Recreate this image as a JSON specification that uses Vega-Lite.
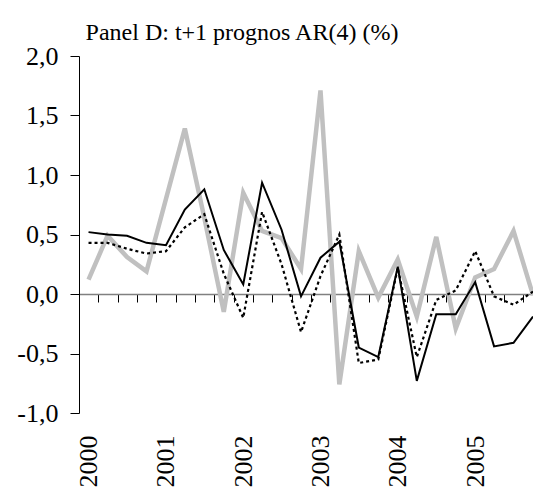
{
  "$schema": "https://vega.github.io/schema/vega-lite/v6.json",
  "width": 454,
  "height": 357,
  "autosize": "none",
  "padding": {"left": 79, "top": 56, "right": 0, "bottom": 80},
  "background": "white",
  "config": {"view": {"stroke": null}, "font": "Liberation Serif, Times New Roman, serif"},
  "title": {
    "text": "Panel D: t+1 prognos AR(4) (%)",
    "font": "Liberation Serif, Times New Roman, serif",
    "fontSize": 24,
    "fontWeight": "normal",
    "color": "black",
    "anchor": "middle",
    "dx": -64,
    "offset": -2
  },
  "data": {
    "values": [
      {"kvartal": "2000-02-15", "utfall": 0.12, "prognos": 0.52, "prognos_alt": 0.43},
      {"kvartal": "2000-05-15", "utfall": 0.49, "prognos": 0.50, "prognos_alt": 0.43},
      {"kvartal": "2000-08-15", "utfall": 0.31, "prognos": 0.49, "prognos_alt": 0.38},
      {"kvartal": "2000-11-15", "utfall": 0.19, "prognos": 0.43, "prognos_alt": 0.34},
      {"kvartal": "2001-02-15", "utfall": 0.80, "prognos": 0.41, "prognos_alt": 0.36},
      {"kvartal": "2001-05-15", "utfall": 1.39, "prognos": 0.71, "prognos_alt": 0.56},
      {"kvartal": "2001-08-15", "utfall": 0.64, "prognos": 0.88, "prognos_alt": 0.67},
      {"kvartal": "2001-11-15", "utfall": -0.15, "prognos": 0.37, "prognos_alt": 0.17},
      {"kvartal": "2002-02-15", "utfall": 0.85, "prognos": 0.08, "prognos_alt": -0.20},
      {"kvartal": "2002-05-15", "utfall": 0.53, "prognos": 0.935, "prognos_alt": 0.69},
      {"kvartal": "2002-08-15", "utfall": 0.47, "prognos": 0.54, "prognos_alt": 0.25},
      {"kvartal": "2002-11-15", "utfall": 0.21, "prognos": -0.02, "prognos_alt": -0.32},
      {"kvartal": "2003-02-15", "utfall": 1.71, "prognos": 0.305, "prognos_alt": 0.15},
      {"kvartal": "2003-05-15", "utfall": -0.76, "prognos": 0.44, "prognos_alt": 0.50},
      {"kvartal": "2003-08-15", "utfall": 0.36, "prognos": -0.45, "prognos_alt": -0.58},
      {"kvartal": "2003-11-15", "utfall": -0.03, "prognos": -0.53, "prognos_alt": -0.55},
      {"kvartal": "2004-02-15", "utfall": 0.29, "prognos": 0.23, "prognos_alt": 0.22},
      {"kvartal": "2004-05-15", "utfall": -0.19, "prognos": -0.73, "prognos_alt": -0.53},
      {"kvartal": "2004-08-15", "utfall": 0.48, "prognos": -0.17, "prognos_alt": -0.05},
      {"kvartal": "2004-11-15", "utfall": -0.29, "prognos": -0.17, "prognos_alt": 0.03},
      {"kvartal": "2005-02-15", "utfall": 0.14, "prognos": 0.10, "prognos_alt": 0.36},
      {"kvartal": "2005-05-15", "utfall": 0.21, "prognos": -0.44, "prognos_alt": -0.02},
      {"kvartal": "2005-08-15", "utfall": 0.53, "prognos": -0.41, "prognos_alt": -0.09},
      {"kvartal": "2005-11-15", "utfall": -0.01, "prognos": -0.19, "prognos_alt": 0.02}
    ]
  },
  "resolve": {"axis": {"x": "independent"}},
  "layer": [
    {
      "mark": {"type": "line", "color": "#c0c0c0", "strokeWidth": 4.5, "strokeJoin": "miter"},
      "encoding": {
        "x": {
          "field": "kvartal",
          "type": "temporal",
          "scale": {"domain": [{"year": 2000, "month": 1, "date": 1}, {"year": 2005, "month": 11, "date": 15}], "nice": false},
          "axis": {
            "orient": "bottom",
            "title": null,
            "values": [
              {"year": 2000, "month": 2, "date": 15},
              {"year": 2001, "month": 2, "date": 15},
              {"year": 2002, "month": 2, "date": 15},
              {"year": 2003, "month": 2, "date": 15},
              {"year": 2004, "month": 2, "date": 15},
              {"year": 2005, "month": 2, "date": 15}
            ],
            "format": "%Y",
            "labelAngle": 270,
            "labelAlign": "right",
            "labelBaseline": "middle",
            "labelFontSize": 26,
            "labelFont": "Liberation Serif, Times New Roman, serif",
            "labelColor": "black",
            "labelPadding": 22,
            "ticks": false,
            "domain": false,
            "grid": false,
            "labelOverlap": false,
            "labelFlush": false
          }
        },
        "y": {
          "field": "utfall",
          "type": "quantitative",
          "scale": {"domain": [-1, 2], "nice": false, "zero": false},
          "axis": {
            "title": null,
            "values": [-1, -0.5, 0, 0.5, 1, 1.5, 2],
            "labelExpr": "(datum.value < 0 ? '-' : '') + replace(format(abs(datum.value), '.1f'), '.', ',')",
            "labelFontSize": 26,
            "labelFont": "Liberation Serif, Times New Roman, serif",
            "labelColor": "black",
            "labelPadding": 12,
            "tickSize": 9,
            "tickColor": "black",
            "domainColor": "black",
            "grid": false,
            "labelFlush": false,
            "labelOverlap": false
          }
        }
      }
    },
    {
      "mark": {"type": "line", "color": "black", "strokeWidth": 2.2, "strokeDash": [3, 3]},
      "encoding": {
        "x": {
          "field": "kvartal",
          "type": "temporal",
          "axis": {
            "orient": "bottom",
            "offset": -119,
            "title": null,
            "tickCount": {"interval": "month", "step": 3},
            "labels": false,
            "tickSize": 8,
            "tickColor": "black",
            "domainColor": "#808080",
            "domainWidth": 1.5,
            "grid": false
          }
        },
        "y": {
          "field": "prognos_alt",
          "type": "quantitative",
          "axis": {
            "title": null,
            "values": [-1, -0.5, 0, 0.5, 1, 1.5, 2],
            "labelExpr": "(datum.value < 0 ? '-' : '') + replace(format(abs(datum.value), '.1f'), '.', ',')",
            "labelFontSize": 26,
            "labelFont": "Liberation Serif, Times New Roman, serif",
            "labelColor": "black",
            "labelPadding": 12,
            "tickSize": 9,
            "tickColor": "black",
            "domainColor": "black",
            "grid": false,
            "labelFlush": false,
            "labelOverlap": false
          }
        }
      }
    },
    {
      "mark": {"type": "line", "color": "black", "strokeWidth": 2},
      "encoding": {
        "x": {"field": "kvartal", "type": "temporal", "axis": null},
        "y": {
          "field": "prognos",
          "type": "quantitative",
          "axis": {
            "title": null,
            "values": [-1, -0.5, 0, 0.5, 1, 1.5, 2],
            "labelExpr": "(datum.value < 0 ? '-' : '') + replace(format(abs(datum.value), '.1f'), '.', ',')",
            "labelFontSize": 26,
            "labelFont": "Liberation Serif, Times New Roman, serif",
            "labelColor": "black",
            "labelPadding": 12,
            "tickSize": 9,
            "tickColor": "black",
            "domainColor": "black",
            "grid": false,
            "labelFlush": false,
            "labelOverlap": false
          }
        }
      }
    }
  ]
}
